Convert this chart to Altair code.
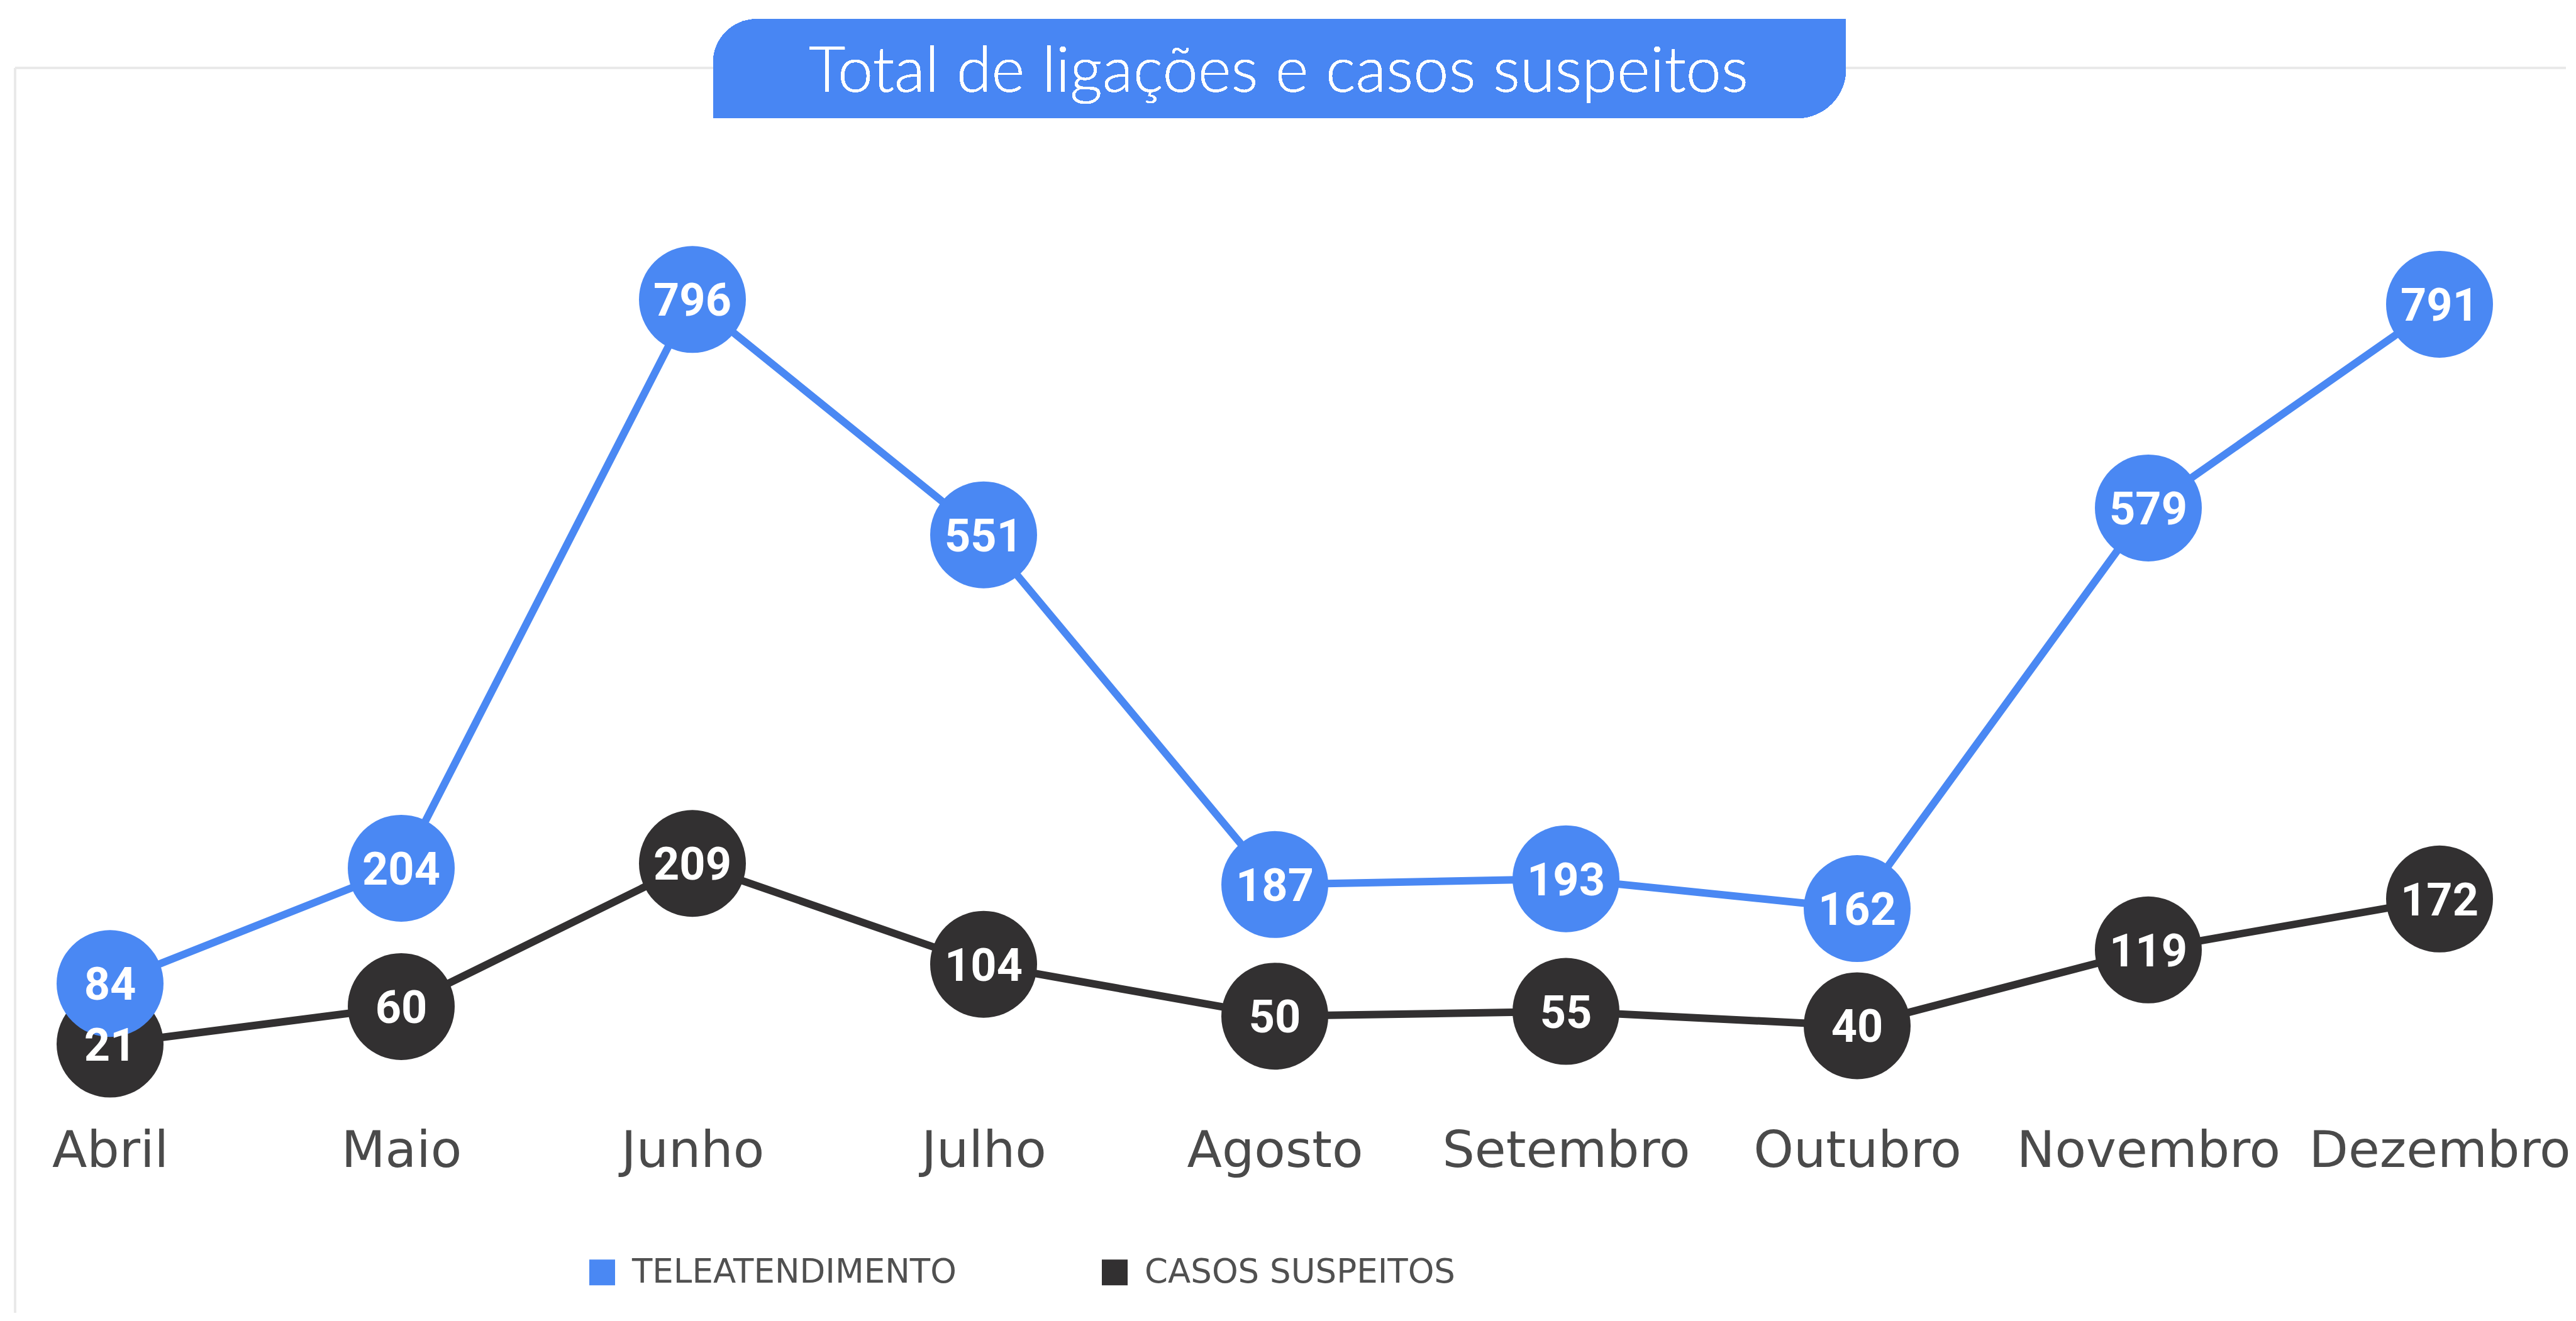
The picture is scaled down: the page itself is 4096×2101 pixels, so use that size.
import altair as alt
import pandas as pd

# ---- data ----
months = ["Abril", "Maio", "Junho", "Julho", "Agosto", "Setembro", "Outubro", "Novembro", "Dezembro"]
teleatendimento = [84, 204, 796, 551, 187, 193, 162, 579, 791]
casos_suspeitos = [21, 60, 209, 104, 50, 55, 40, 119, 172]
series_names = ["TELEATENDIMENTO", "CASOS SUSPEITOS"]
series_colors = ["#4A88F3", "#323031"]
title_text = "Total de ligações e casos suspeitos"

rows = []
for m, v in zip(months, casos_suspeitos):
    rows.append({"mes": m, "valor": v, "serie": series_names[1]})
for m, v in zip(months, teleatendimento):
    rows.append({"mes": m, "valor": v, "serie": series_names[0]})
df = pd.DataFrame(rows)

W = 4072
H = 1847

x_enc = alt.X("mes:N", sort=months,
              scale=alt.Scale(type="point", padding=0, range=[167, 3871]),
              axis=alt.Axis(title=None, domain=False, ticks=False, tickSize=0, grid=False,
                            labelPadding=0, labelBaseline="alphabetic", labelAngle=0,
                            labelFont="DejaVu Sans", labelFontSize=81, labelColor="#4A4A4A",
                            labelLimit=0))
y_enc = alt.Y("valor:Q", scale=alt.Scale(domain=[0, 1000], range=[1684.6, 156.6]), axis=None)
color_enc = alt.Color("serie:N",
                      scale=alt.Scale(domain=series_names, range=series_colors),
                      legend=alt.Legend(title=None, orient="none", direction="horizontal",
                                        legendX=923, legendY=1989, symbolType="square",
                                        symbolSize=1681, symbolStrokeWidth=0,
                                        labelFont="DejaVu Sans", labelFontSize=53,
                                        labelColor="#505050",
                                        labelOffset=21, labelLimit=0, columnPadding=225,
                                        padding=0))

base = alt.Chart(df)

frame_left = base.mark_rule(color="#E9E9E9", strokeWidth=3).encode(
    x=alt.value(16), y=alt.value(100), y2=alt.value(2080))
frame_top = base.mark_rule(color="#E9E9E9", strokeWidth=3).encode(
    x=alt.value(16), x2=alt.value(W), y=alt.value(100))

title_box = base.mark_rect(color="#4886F3", cornerRadiusTopLeft=69,
                           cornerRadiusBottomRight=78).encode(
    x=alt.value(1126), x2=alt.value(2927), y=alt.value(22.5), y2=alt.value(180))
title = base.mark_text(font="Lato", fontWeight=300, fontSize=101, color="white",
                       align="center", baseline="alphabetic").encode(
    x=alt.value(2025), y=alt.value(138), text=alt.value(title_text))

lines = base.mark_line(strokeWidth=12).encode(x=x_enc, y=y_enc, color=color_enc)
points = base.mark_circle(size=28900, opacity=1).encode(x=x_enc, y=y_enc, color=color_enc)
labels = base.mark_text(font="Roboto", fontWeight="bold", fontSize=72, color="white",
                        align="center", baseline="alphabetic", dy=26).encode(
    x=x_enc, y=y_enc, text="valor:Q")

chart = alt.layer(frame_left, frame_top, title_box, title, lines, points, labels).properties(
    width=W, height=H, padding=0, background="white",
    autosize=alt.AutoSizeParams(type="pad")
).configure_view(stroke=None)

chart.save("out.html", embed_options={"renderer": "svg", "actions": False})
